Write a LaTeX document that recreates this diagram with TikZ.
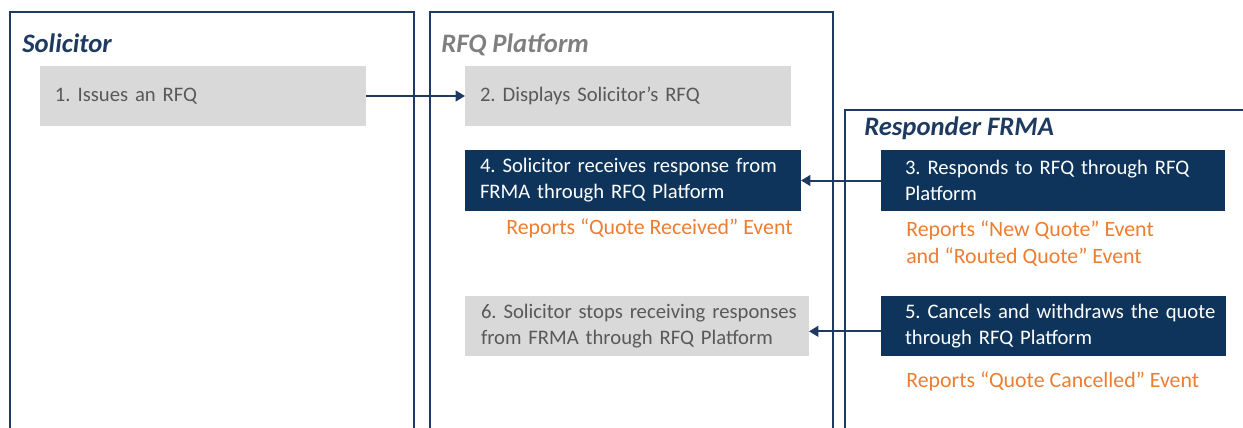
\documentclass[tikz,border=0pt]{standalone}
\usepackage{fontspec}
\setmainfont{Carlito}
\usetikzlibrary{arrows.meta}
\definecolor{navy}{HTML}{1F3A60}
\definecolor{darkbox}{HTML}{0E345B}
\definecolor{graybox}{HTML}{D9D9D9}
\definecolor{graytext}{HTML}{595959}
\definecolor{titlegray}{HTML}{7F7F7F}
\definecolor{orangetext}{HTML}{ED7D31}
\tikzset{
  frame/.style={draw=navy, line width=1.6pt},
  boxtext/.style={font=\fontsize{15.5}{19.5}\selectfont\frenchspacing, align=left, anchor=north west, inner ysep=0pt, outer sep=0pt},
  lightbox/.style={boxtext, fill=graybox, text=graytext},
  darkbx/.style={boxtext, fill=darkbox, text=white},
  lanetitle/.style={font=\fontsize{20}{24}\selectfont\bfseries\itshape, anchor=base west, inner sep=0pt},
  report/.style={font=\fontsize{16.4}{20.25}\selectfont\frenchspacing, text=orangetext, align=left, anchor=west, inner sep=0pt},
  flow/.style={draw=navy, line width=1.5pt, -{Triangle[length=7pt,width=8pt]}}
}
\begin{document}
\begin{tikzpicture}[x=0.75pt,y=-0.75pt]
\useasboundingbox (0,0) rectangle (1243,428);
\clip (0,0) rectangle (1243,428);
% swim-lane frames
\draw[frame] (10,440) -- (10,12) -- (414,12) -- (414,440);
\draw[frame] (430,440) -- (430,12) -- (833,12) -- (833,440);
\draw[frame] (845,440) -- (845,110) -- (1260,110);
% titles
\node[lanetitle, text=navy] (tsol) at (22,53) {Solicitor};
\node[lanetitle, text=titlegray] (trfq) at (441,53) {RFQ Platform};
\node[lanetitle, text=navy] (tresp) at (864,136) {Responder FRMA};
% boxes
\node[lightbox, inner xsep=15*0.75pt, text width=(326-30)*0.75pt, minimum height=60*0.75pt] (b1) at (40,66) {\mbox{1. Issues an RFQ}};
\node[lightbox, inner xsep=15*0.75pt, text width=(326-30)*0.75pt, minimum height=60*0.75pt] (b2) at (465,66) {\mbox{2. Displays Solicitor’s RFQ}};
\node[darkbx, inner xsep=15*0.75pt, text width=(336-30)*0.75pt, minimum height=61*0.75pt] (b4) at (465,150) {\mbox{4. Solicitor receives response from}\\\mbox{FRMA through RFQ Platform}};
\node[darkbx, inner xsep=24*0.75pt, text width=(344-48)*0.75pt, minimum height=61*0.75pt] (b3) at (881,150) {\mbox{3. Responds to RFQ through RFQ}\\\mbox{Platform}};
\node[lightbox, inner xsep=16*0.75pt, text width=(344-32)*0.75pt, minimum height=60*0.75pt] (b6) at (465,296) {\mbox{6. Solicitor stops receiving responses}\\\mbox{from FRMA through RFQ Platform}};
\node[darkbx, inner xsep=24*0.75pt, text width=(345-48)*0.75pt, minimum height=60*0.75pt] (b5) at (881,296) {\mbox{5. Cancels and withdraws the quote}\\\mbox{through RFQ Platform}};
% reports
\node[report] (r4) at (506,228) {Reports “Quote Received” Event};
\node[report] (r3) at (906,243.5) {Reports “New Quote” Event\\and “Routed Quote” Event};
\node[report] (r5) at (906,381) {Reports “Quote Cancelled” Event};
% arrows
\draw[flow] (b1.east) -- (b2.west);
\draw[flow] (b3.west) -- (b4.east);
\draw[flow] ([yshift=-4pt]b5.west) -- ([yshift=-4pt]b6.east);
\end{tikzpicture}
\end{document}
